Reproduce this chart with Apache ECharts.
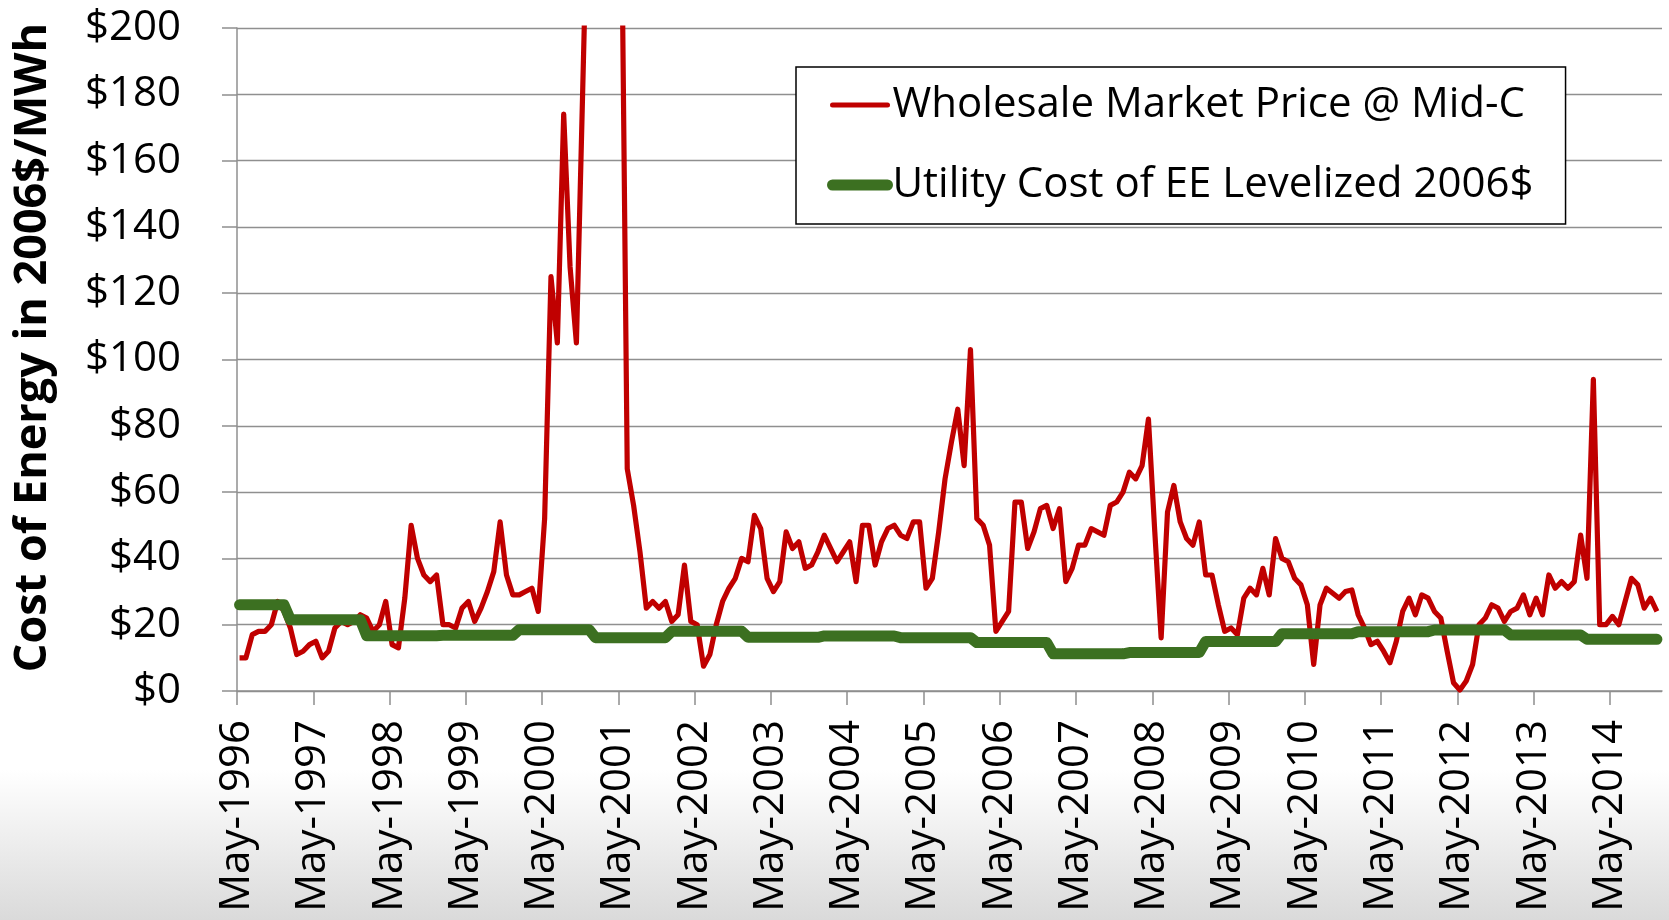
<!DOCTYPE html>
<html>
<head>
<meta charset="utf-8">
<script src="https://cdn.jsdelivr.net/npm/echarts@6.0.0/dist/echarts.min.js"></script>
<style>
  html, body { margin: 0; padding: 0; background: #ffffff; }
  #chart { width: 1669px; height: 920px; }
</style>
</head>
<body>
<div id="chart"></div>
<script>
// ---- Data (monthly, May-1996 .. Dec-2014) ----
const seriesNames = ['Wholesale Market Price @ Mid-C', 'Utility Cost of EE Levelized 2006$'];

const xTickLabels = ['May-1996','May-1997','May-1998','May-1999','May-2000','May-2001','May-2002',
  'May-2003','May-2004','May-2005','May-2006','May-2007','May-2008','May-2009','May-2010',
  'May-2011','May-2012','May-2013','May-2014'];

const yTickLabels = ['$0','$20','$40','$60','$80','$100','$120','$140','$160','$180','$200'];

// Wholesale market price @ Mid-C, 2006$/MWh (one row per calendar year)
const marketPrice = [
  10, 10, 17, 18, 18, 20, 27, 24,                               // 1996 (May-Dec)
  19, 11, 12, 14, 15, 10, 12, 19, 21, 20, 21, 23,               // 1997
  22, 18, 20, 27, 14, 13, 28, 50, 40, 35, 33, 35,               // 1998
  20, 20, 19, 25, 27, 21, 25, 30, 36, 51, 35, 29,               // 1999
  29, 30, 31, 24, 52, 125, 105, 174, 128, 105, 182, 260,        // 2000
  310, 420, 290, 280, 255, 67, 56, 42, 25, 27, 25, 27,          // 2001
  21, 23, 38, 21, 20, 7.5, 11, 20, 27, 31, 34, 40,              // 2002
  39, 53, 49, 34, 30, 33, 48, 43, 45, 37, 38, 42,               // 2003
  47, 43, 39, 42, 45, 33, 50, 50, 38, 45, 49, 50,               // 2004
  47, 46, 51, 51, 31, 34, 48, 64, 75, 85, 68, 103,              // 2005
  52, 50, 44, 18, 21, 24, 57, 57, 43, 48, 55, 56,               // 2006
  49, 55, 33, 37, 44, 44, 49, 48, 47, 56, 57, 60,               // 2007
  66, 64, 68, 82, 48, 16, 54, 62, 51, 46, 44, 51,               // 2008
  35, 35, 26, 18, 19, 17, 28, 31, 29, 37, 29, 46,               // 2009
  40, 39, 34, 32, 26, 8, 26, 31, 29.5, 28, 30, 30.5,            // 2010
  23, 19, 14, 15, 12, 8.5, 15, 24, 28, 23, 29, 28,              // 2011
  24, 22, 12, 2.5, 0.3, 3, 8, 20, 22, 26, 25, 21,               // 2012
  24, 25, 29, 23, 28, 23, 35, 31, 33, 31, 33, 47,               // 2013
  34, 94, 20, 20, 22.5, 20, 27, 34, 32, 25, 28, 24              // 2014
];

// Utility cost of EE, levelized 2006$/MWh
const eeCost = [
  26, 26, 26, 26, 26, 26, 26, 26,                                               // 1996
  21.5, 21.5, 21.5, 21.5, 21.5, 21.5, 21.5, 21.5, 21.5, 21.5, 21.5, 21.5,       // 1997
  16.7, 16.7, 16.7, 16.7, 16.7, 16.7, 16.7, 16.7, 16.7, 16.7, 16.7, 16.7,       // 1998
  16.8, 16.8, 16.8, 16.8, 16.8, 16.8, 16.8, 16.8, 16.8, 16.8, 16.8, 16.8,       // 1999
  18.5, 18.5, 18.5, 18.5, 18.5, 18.5, 18.5, 18.5, 18.5, 18.5, 18.5, 18.5,       // 2000
  16.1, 16.1, 16.1, 16.1, 16.1, 16.1, 16.1, 16.1, 16.1, 16.1, 16.1, 16.1,       // 2001
  18, 18, 18, 18, 18, 18, 18, 18, 18, 18, 18, 18,                               // 2002
  16.2, 16.2, 16.2, 16.2, 16.2, 16.2, 16.2, 16.2, 16.2, 16.2, 16.2, 16.2,       // 2003
  16.6, 16.6, 16.6, 16.6, 16.6, 16.6, 16.6, 16.6, 16.6, 16.6, 16.6, 16.6,       // 2004
  16.1, 16.1, 16.1, 16.1, 16.1, 16.1, 16.1, 16.1, 16.1, 16.1, 16.1, 16.1,       // 2005
  14.6, 14.6, 14.6, 14.6, 14.6, 14.6, 14.6, 14.6, 14.6, 14.6, 14.6, 14.6,       // 2006
  11.2, 11.2, 11.2, 11.2, 11.2, 11.2, 11.2, 11.2, 11.2, 11.2, 11.2, 11.2,       // 2007
  11.6, 11.6, 11.6, 11.6, 11.6, 11.6, 11.6, 11.6, 11.6, 11.6, 11.6, 11.6,       // 2008
  14.9, 14.9, 14.9, 14.9, 14.9, 14.9, 14.9, 14.9, 14.9, 14.9, 14.9, 14.9,       // 2009
  17.3, 17.3, 17.3, 17.3, 17.3, 17.3, 17.3, 17.3, 17.3, 17.3, 17.3, 17.3,       // 2010
  17.9, 17.9, 17.9, 17.9, 17.9, 17.9, 17.9, 17.9, 17.9, 17.9, 17.9, 17.9,       // 2011
  18.4, 18.4, 18.4, 18.4, 18.4, 18.4, 18.4, 18.4, 18.4, 18.4, 18.4, 18.4,       // 2012
  16.9, 16.9, 16.9, 16.9, 16.9, 16.9, 16.9, 16.9, 16.9, 16.9, 16.9, 16.9,       // 2013
  15.6, 15.6, 15.6, 15.6, 15.6, 15.6, 15.6, 15.6, 15.6, 15.6, 15.6, 15.6        // 2014
];

// ---- Build chart ----
const FONT = '"Open Sans", "Noto Sans", sans-serif';
const GRID_COLOR = '#8f8f8f';
const RED = '#c00000';
const GREEN = '#3c7021';
const MONTH_OFFSET = 0.4;               // points sit part-way into each month (date axis)
const toPoints = arr => arr.map((v, i) => [i + MONTH_OFFSET, v]);
const tickValues = xTickLabels.map((_, k) => k * 12);

const chart = echarts.init(document.getElementById('chart'), null, { renderer: 'canvas' });

chart.setOption({
  animation: false,
  backgroundColor: '#ffffff',
  textStyle: { fontFamily: FONT },
  graphic: [{
    type: 'rect',
    z: -10,
    left: 0, top: 770,
    shape: { width: 1669, height: 150 },
    style: {
      fill: new echarts.graphic.LinearGradient(0, 0, 0, 1, [
        { offset: 0, color: '#ffffff' },
        { offset: 1, color: '#dadada' }
      ])
    },
    silent: true
  }],
  grid: { left: 237, right: 7, top: 28, bottom: 229, containLabel: false },
  legend: {
    orient: 'vertical',
    left: 796, top: 67,
    padding: [13, 32, 14, 31],
    backgroundColor: '#ffffff',
    borderColor: '#000000',
    borderWidth: 1.5,
    borderRadius: 0,
    itemWidth: 55,
    itemHeight: 14,
    itemGap: 30,
    itemStyle: { opacity: 0 },
    textStyle: { fontFamily: FONT, fontSize: 42, color: '#000000', lineHeight: 50 },
    data: [
      { name: seriesNames[0], lineStyle: { color: RED, width: 5, cap: 'round' } },
      { name: seriesNames[1], lineStyle: { color: GREEN, width: 11, cap: 'round' } }
    ]
  },
  xAxis: {
    type: 'value',
    min: 0,
    max: 224.2,
    axisLine: { show: true, lineStyle: { color: GRID_COLOR, width: 1.5 } },
    axisTick: { show: true, customValues: tickValues, length: 14, lineStyle: { color: GRID_COLOR, width: 1.5 } },
    axisLabel: {
      customValues: tickValues,
      rotate: 90,
      margin: 29,
      fontFamily: FONT,
      fontSize: 42,
      color: '#000000',
      formatter: v => xTickLabels[Math.round(v / 12)]
    },
    splitLine: { show: false }
  },
  yAxis: {
    type: 'value',
    min: 0, max: 200, interval: 20,
    name: 'Cost of Energy in 2006$/MWh',
    nameLocation: 'middle',
    nameRotate: 90,
    nameGap: 181,
    nameTextStyle: { fontFamily: FONT, fontSize: 45, fontWeight: 'bold', color: '#000000', padding: [0, 0, 0, 24] },
    axisLine: { show: true, lineStyle: { color: GRID_COLOR, width: 1.5 } },
    axisTick: { show: true, length: 15, lineStyle: { color: GRID_COLOR, width: 1.5 } },
    axisLabel: {
      margin: 56,
      fontFamily: FONT,
      fontSize: 42,
      color: '#000000',
      formatter: v => yTickLabels[Math.round(v / 20)]
    },
    splitLine: { show: true, lineStyle: { color: GRID_COLOR, width: 1.4 } }
  },
  series: [
    {
      name: seriesNames[0],
      type: 'line',
      data: toPoints(marketPrice),
      symbol: 'none',
      showSymbol: false,
      clip: true,
      lineStyle: { color: RED, width: 5.2, join: 'round' },
      itemStyle: { color: RED }
    },
    {
      name: seriesNames[1],
      type: 'line',
      data: toPoints(eeCost),
      symbol: 'none',
      showSymbol: false,
      clip: true,
      lineStyle: { color: GREEN, width: 11, cap: 'round', join: 'round' },
      itemStyle: { color: GREEN }
    }
  ]
});
</script>
</body>
</html>
